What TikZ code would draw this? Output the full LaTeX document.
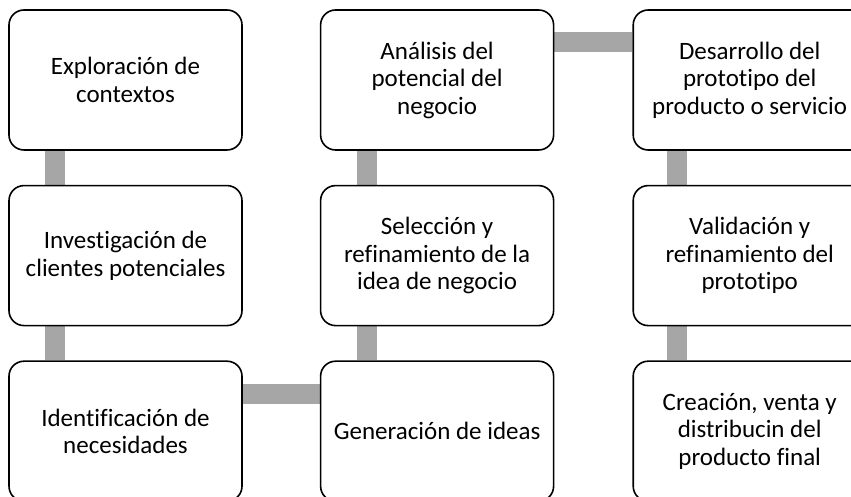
\documentclass[tikz,border=0pt]{standalone}
\usepackage{fontspec}
\setmainfont{Carlito}[Ligatures=NoCommon]
\usepackage{tikz}
\usetikzlibrary{positioning,backgrounds}

\definecolor{linkgray}{RGB}{166,166,166}

\tikzset{
  stage/.style={draw=black, line width=1.6pt, fill=white, rounded corners=15pt,
    minimum width=233pt, minimum height=140pt, align=center,
    inner sep=0pt, font=\fontsize{25}{27.5}\selectfont},
  link/.style={linkgray, line width=20pt}
}

\begin{document}
\begin{tikzpicture}[x=1pt, y=1pt]
  \useasboundingbox (0,0) rectangle (851,497);

  % left column
  \node[stage] (explora) at (125.5,417) {Exploración de\\contextos};
  \node[stage, below=34pt of explora] (clientes) {Investigación de\\clientes potenciales};
  \node[stage, below=34pt of clientes] (necesid) {Identificación de\\necesidades};

  % middle column
  \node[stage, right=77pt of necesid] (ideas) {Generación de ideas};
  \node[stage, above=34pt of ideas] (seleccion) {Selección y\\refinamiento de la\\idea de negocio};
  \node[stage, above=34pt of seleccion] (analisis) {Análisis del\\potencial del\\negocio};

  % right column
  \node[stage, right=78pt of analisis] (desarrollo) {Desarrollo del\\prototipo del\\producto o servicio};
  \node[stage, below=34pt of desarrollo] (validacion) {Validación y\\refinamiento del\\prototipo};
  \node[stage, below=34pt of validacion] (creacion) {Creación, venta y\\distribucin del\\producto final};

  % connectors behind the boxes
  \begin{scope}[on background layer]
    \draw[link] ([xshift=47pt]explora.south west) -- ([xshift=47pt]clientes.north west);
    \draw[link] ([xshift=47pt]clientes.south west) -- ([xshift=47pt]necesid.north west);
    \draw[link] ([yshift=-34pt]necesid.north east) -- ([yshift=-34pt]ideas.north west);
    \draw[link] ([xshift=47pt]ideas.north west) -- ([xshift=47pt]seleccion.south west);
    \draw[link] ([xshift=47pt]seleccion.north west) -- ([xshift=47pt]analisis.south west);
    \draw[link] ([yshift=-33pt]analisis.north east) -- ([yshift=-33pt]desarrollo.north west);
    \draw[link] ([xshift=45pt]desarrollo.south west) -- ([xshift=45pt]validacion.north west);
    \draw[link] ([xshift=45pt]validacion.south west) -- ([xshift=45pt]creacion.north west);
  \end{scope}
\end{tikzpicture}
\end{document}
